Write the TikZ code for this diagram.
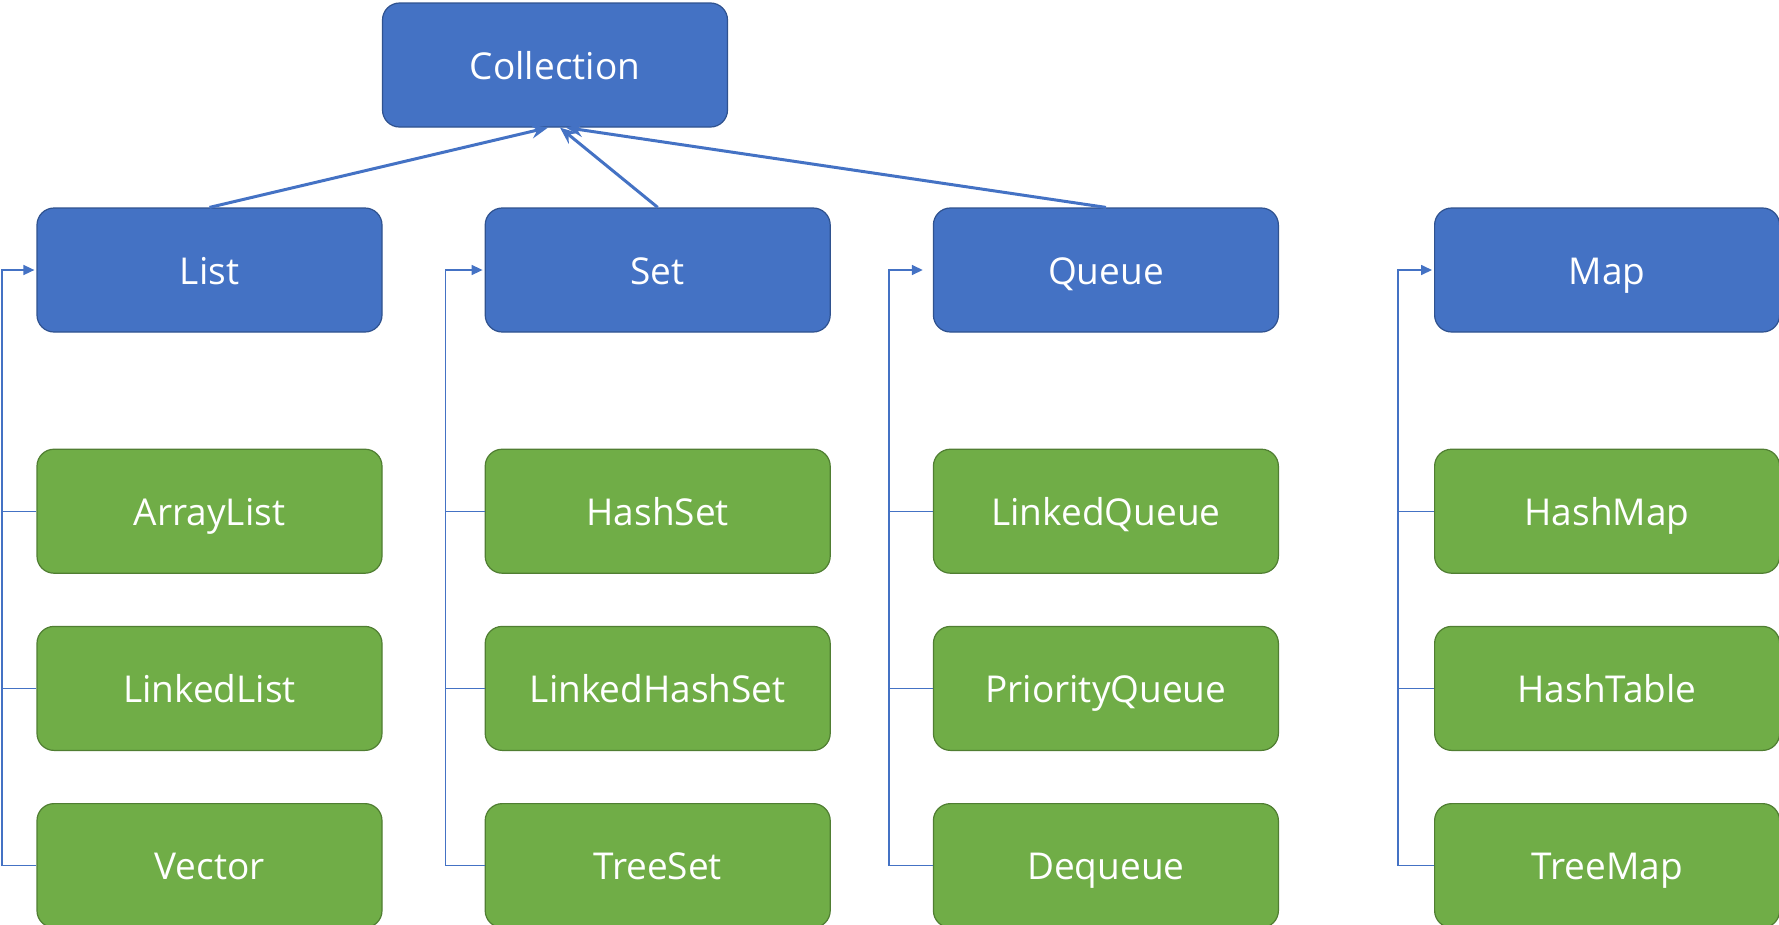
\documentclass[tikz,border=0pt]{standalone}
\usepackage{fontspec}
\setmainfont{Open Sans}
\usetikzlibrary{positioning,arrows.meta}
\definecolor{ifacefill}{HTML}{4472C4}
\definecolor{ifaceline}{HTML}{2F528F}
\definecolor{implfill}{HTML}{70AD47}
\definecolor{implline}{HTML}{507E32}

\begin{document}
\begin{tikzpicture}[x=1pt, y=-1pt, node distance=52pt and 102pt,
  box/.style={rectangle, rounded corners=17pt, minimum width=345pt,
    minimum height=124pt, inner sep=0pt, line width=1.2pt, text=white,
    text height=36pt, text depth=8pt, font=\fontsize{37}{42}\selectfont},
  iface/.style={box, fill=ifacefill, draw=ifaceline},
  impl/.style={box, fill=implfill, draw=implline},
  extends/.style={draw=ifacefill, line width=3pt, -{Stealth[length=17pt, width=14pt, inset=6pt]}},
  bus/.style={draw=ifacefill, line width=1.6pt, -{Triangle[length=11pt, width=10pt]}, shorten >=2pt},
  tap/.style={draw=ifacefill, line width=1pt}]
\useasboundingbox (0,0) rectangle (1779,924);

\node[iface](coll) at (555,65){Collection};
\node[iface](list) at (209.5,270){List};
\node[iface](set)[right=of list]{Set};
\node[iface](queue)[right=of set]{Queue};
\node[iface](map)[right=155pt of queue]{Map};

\node[impl](alist)[below=116pt of list]{ArrayList};
\node[impl](llist)[below=of alist]{LinkedList};
\node[impl](vector)[below=of llist]{Vector};

\node[impl](hset)[below=116pt of set]{HashSet};
\node[impl](lhset)[below=of hset]{LinkedHashSet};
\node[impl](tset)[below=of lhset]{TreeSet};

\node[impl](lqueue)[below=116pt of queue]{LinkedQueue};
\node[impl](pqueue)[below=of lqueue]{PriorityQueue};
\node[impl](dqueue)[below=of pqueue]{Dequeue};

\node[impl](hmap)[below=116pt of map]{HashMap};
\node[impl](htable)[below=of hmap]{HashTable};
\node[impl](tmap)[below=of htable]{TreeMap};

% interfaces up to Collection
\path[extends] (list.north) -- ([xshift=-7pt]coll.south);
\path[extends] (set.north) -- ([xshift=5pt]coll.south);
\path[extends] (queue.north) -- ([xshift=11pt]coll.south);

% bus lines on the left of each column
\coordinate[left=34.5pt of list.west](lbus);
\coordinate[left=39pt of set.west](sbus);
\coordinate[left=44pt of queue.west](qbus);
\coordinate[left=36pt of map.west](mbus);

\path[bus] (vector.west) -| (lbus) -- (list.west);
\path[tap] (alist.west) -- (alist.west -| lbus);
\path[tap] (llist.west) -- (llist.west -| lbus);

\path[bus] (tset.west) -| (sbus) -- (set.west);
\path[tap] (hset.west) -- (hset.west -| sbus);
\path[tap] (lhset.west) -- (lhset.west -| sbus);

\path[bus] (dqueue.west) -| (qbus) -- ([xshift=-8pt]queue.west);
\path[tap] (lqueue.west) -- (lqueue.west -| qbus);
\path[tap] (pqueue.west) -- (pqueue.west -| qbus);

\path[bus] (tmap.west) -| (mbus) -- (map.west);
\path[tap] (hmap.west) -- (hmap.west -| mbus);
\path[tap] (htable.west) -- (htable.west -| mbus);

\end{tikzpicture}
\end{document}
